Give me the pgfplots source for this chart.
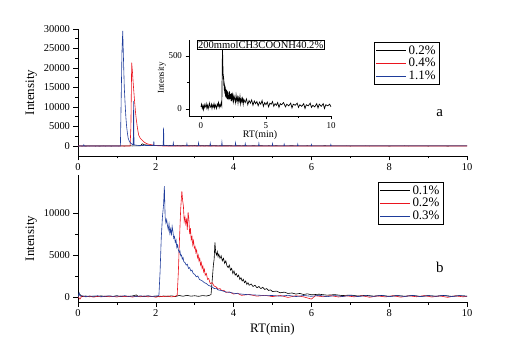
\documentclass[border=0pt]{standalone}
\usepackage{pgfplots}
\pgfplotsset{compat=1.18}
\usepackage{fontspec}
\setmainfont{Liberation Serif}
\definecolor{cblue}{RGB}{30,60,155}
\definecolor{cred}{RGB}{235,20,30}

\pgfplotsset{
  chrom/.style={
    scale only axis,
    width=389bp, height=127bp,
    xmin=0, xmax=10,
    axis x line*=bottom, axis y line*=left,
    axis line style={-, line width=0.7pt},
    tick align=outside,
    major tick length=4.5bp, minor tick length=2.5bp,
    tick style={line width=0.6pt, black},
    xtick={0,2,4,6,8,10},
    minor x tick num=1,
    minor y tick num=1,
    /pgf/number format/assume math mode=true,
    /pgf/number format/set thousands separator={},
    scaled y ticks=false,
    tick label style={font=\fontsize{10.5}{12}\selectfont},
    label style={font=\fontsize{13}{15}\selectfont},
    legend style={draw=black, line width=0.6pt, fill=white, font=\fontsize{13}{14}\selectfont,
      inner sep=1.5bp, row sep=-1.5bp, legend cell align=left},
    legend image code/.code={\draw[#1, line width=0.8pt] (0bp,0bp) -- (30bp,0bp);},
    every axis plot/.append style={line width=0.6pt},
  }
}

\pgfplotstableread{
x y
0.0 20
0.05 45
0.1 5
0.15 30
0.2 -5
0.25 40
0.3 15
0.35 25
0.4 50
0.45 10
0.5 35
0.55 0
0.6 30
0.65 55
0.7 15
0.75 20
0.8 45
0.85 5
0.9 35
0.95 20
1.0 50
1.05 10
1.1 40
1.15 25
1.2 5
1.25 45
1.3 30
1.35 60
1.4 15
1.45 40
1.5 25
1.55 55
1.6 30
1.62 200
1.64 450
1.66 560
1.68 430
1.70 350
1.72 280
1.74 310
1.76 220
1.78 260
1.80 170
1.82 230
1.84 140
1.86 210
1.88 120
1.90 190
1.93 110
1.96 180
1.99 100
2.02 170
2.05 90
2.08 160
2.12 120
2.16 85
2.2 165
2.24 95
2.28 140
2.32 75
2.36 150
2.4 90
2.45 135
2.5 70
2.55 120
2.6 95
2.65 60
2.7 130
2.75 80
2.8 110
2.85 55
2.9 105
2.95 75
3.0 120
3.05 50
3.1 95
3.15 70
3.2 100
3.25 45
3.3 90
3.4 60
3.5 95
3.6 40
3.7 80
3.8 55
3.9 85
4.0 35
4.1 75
4.2 50
4.3 70
4.4 30
4.5 65
4.6 45
4.7 80
4.8 25
4.9 60
5.0 40
5.1 65
5.2 20
5.3 55
5.4 45
5.5 70
5.6 25
5.7 50
5.8 35
5.9 60
6.0 15
6.1 50
6.2 40
6.35 60
6.5 20
6.6 45
6.75 30
6.9 55
7.0 10
7.1 45
7.25 35
7.4 55
7.5 15
7.6 40
7.75 25
7.9 50
8.0 5
8.1 40
8.25 30
8.4 55
8.5 15
8.6 35
8.75 20
8.9 50
9.0 10
9.1 45
9.25 25
9.4 50
9.5 5
9.6 40
9.75 30
9.9 45
10.0 20
}\insetdata

\pgfplotstableread{
x y
0.0 0
1.34 0
1.36 5000
1.38 21400
1.40 19000
1.42 16000
1.45 12000
1.48 8500
1.50 6700
1.53 4500
1.56 2800
1.60 2000
1.65 1500
1.70 1000
1.75 700
1.80 500
1.90 300
2.00 100
2.20 0
10.0 0
}\topred

\pgfplotstableread{
x y
0.00 0
0.14 0
0.15 300
0.16 0
1.09 0
1.11 12000
1.13 24000
1.15 29500
1.17 22000
1.19 15000
1.21 11000
1.23 7500
1.25 5000
1.27 3300
1.29 2000
1.32 1200
1.36 700
1.40 400
1.42 300
1.43 11500
1.44 300
1.50 200
1.60 100
1.70 150
1.94 100
1.95 1200
1.96 100
2.19 100
2.20 4700
2.21 100
2.44 50
2.45 800
2.46 50
2.79 50
2.80 600
2.81 50
3.09 50
3.10 800
3.11 50
3.39 50
3.40 700
3.41 50
3.69 50
3.70 1000
3.71 50
4.04 50
4.05 800
4.06 50
4.29 50
4.30 600
4.31 50
4.64 50
4.65 700
4.66 50
4.99 50
5.00 600
5.01 50
5.29 50
5.30 500
5.31 50
5.64 50
5.65 500
5.66 50
5.99 50
6.00 400
6.01 50
6.49 50
6.50 400
6.51 50
10.0 50
}\topblue

\pgfplotstableread{
x y
0.00 100
0.05 300
0.10 50
0.20 120
0.30 30
0.40 100
0.50 60
0.60 140
0.70 40
0.80 110
0.90 70
1.00 150
1.10 40
1.20 100
1.30 60
1.40 120
1.50 250
1.55 50
1.60 110
1.70 40
1.80 130
1.90 60
2.00 100
2.10 30
2.20 120
2.30 70
2.40 140
2.50 50
2.60 180
2.70 90
2.80 200
2.90 100
3.00 150
3.10 80
3.20 170
3.30 120
3.38 200
3.42 300
3.45 2000
3.48 3800
3.50 4500
3.52 6500
3.54 5300
3.56 5000
3.58 5400
3.60 4800
3.62 5100
3.65 4600
3.68 4900
3.71 4300
3.74 4600
3.77 4000
3.80 4300
3.83 3700
3.86 3500
3.89 3800
3.92 3200
3.95 3400
3.98 2800
4.01 3100
4.04 2600
4.07 2800
4.10 2400
4.13 2600
4.16 2100
4.19 2300
4.22 1900
4.25 2100
4.28 1700
4.31 1900
4.34 1500
4.37 1700
4.40 1400
4.45 1550
4.50 1250
4.55 1400
4.60 1100
4.65 1250
4.70 1000
4.75 1150
4.80 900
4.85 1000
4.90 780
4.95 850
5.00 650
5.10 700
5.20 500
5.30 580
5.40 420
5.50 480
5.60 350
5.70 420
5.80 300
5.90 380
6.00 260
6.20 330
6.40 220
6.60 280
6.80 170
7.00 230
7.20 120
7.40 200
7.60 100
7.80 180
8.00 80
8.20 170
8.40 90
8.60 180
8.80 70
9.00 160
9.20 90
9.40 180
9.60 80
9.80 150
10.0 100
}\botblack

\pgfplotstableread{
x y
0.00 50
0.05 -250
0.10 120
0.20 20
0.30 100
0.40 -20
0.50 90
0.60 10
0.70 110
0.80 30
0.90 80
1.00 0
1.10 120
1.20 40
1.30 90
1.40 -10
1.50 100
1.60 30
1.70 120
1.80 20
1.90 90
2.00 -30
2.10 100
2.20 40
2.30 120
2.40 10
2.50 90
2.55 200
2.58 3000
2.61 7000
2.64 10500
2.67 12600
2.69 11500
2.71 10800
2.73 9000
2.75 9500
2.77 8700
2.79 9200
2.81 8000
2.83 10100
2.85 9300
2.87 7500
2.89 8200
2.91 6800
2.93 7200
2.95 6200
2.97 6700
2.99 5800
3.01 6000
3.03 5300
3.05 5600
3.07 4700
3.09 5000
3.11 4300
3.13 4600
3.15 3800
3.17 4100
3.19 3400
3.21 3700
3.23 3000
3.25 3300
3.27 2600
3.30 2800
3.33 2100
3.36 2200
3.40 1600
3.45 1700
3.50 1300
3.55 1200
3.60 950
3.65 1000
3.70 750
3.75 800
3.80 550
3.90 600
4.00 350
4.10 450
4.20 200
4.40 300
4.60 100
4.80 200
5.00 50
5.20 180
5.40 -50
5.60 150
5.80 20
6.00 -250
6.10 150
6.30 30
6.50 160
6.70 0
6.90 140
7.10 20
7.30 150
7.50 -30
7.70 130
7.90 10
8.10 150
8.30 -20
8.50 140
8.70 30
8.90 160
9.10 0
9.30 130
9.50 -40
9.70 140
9.90 20
10.0 80
}\botred

\pgfplotstableread{
x y
0.00 0
0.03 500
0.06 100
0.10 150
0.20 50
0.30 120
0.40 80
0.50 150
0.60 60
0.70 100
0.80 140
0.90 70
1.00 120
1.10 90
1.20 150
1.30 80
1.40 110
1.50 60
1.60 130
1.70 90
1.80 140
1.90 70
2.00 110
2.06 150
2.08 200
2.11 3000
2.14 7000
2.17 9500
2.20 11000
2.22 13200
2.24 9500
2.26 8800
2.28 9200
2.30 8500
2.32 8000
2.34 8700
2.36 7600
2.38 8100
2.40 7300
2.42 8400
2.44 7800
2.46 7000
2.48 7200
2.50 6500
2.52 6800
2.54 5900
2.56 6200
2.58 5600
2.60 5300
2.62 5500
2.64 4900
2.66 5000
2.68 4500
2.70 4700
2.72 4200
2.75 4100
2.78 3800
2.81 3900
2.84 3400
2.87 3500
2.90 3100
2.93 3200
2.96 2800
3.00 2700
3.04 2400
3.08 2500
3.12 2100
3.16 2000
3.20 1900
3.25 1700
3.30 1600
3.35 1400
3.40 1300
3.45 1200
3.50 1000
3.55 1050
3.60 850
3.70 750
3.80 600
3.90 550
4.00 450
4.10 400
4.20 350
4.30 300
4.50 250
4.70 200
5.00 180
5.20 100
5.40 200
5.60 50
5.80 180
6.00 80
6.20 200
6.40 40
6.60 170
6.80 60
7.00 190
7.20 50
7.40 160
7.60 70
7.80 200
8.00 40
8.20 170
8.40 60
8.60 190
8.80 50
9.00 160
9.20 80
9.40 200
9.60 40
9.80 170
10.0 90
}\botblue

\begin{document}
\begin{tikzpicture}
\useasboundingbox (0bp,0bp) rectangle (527bp,353bp);

% ---------- panel a ----------
\begin{axis}[chrom,
  at={(78bp,197bp)}, anchor=south west,
  ymin=-2560, ymax=30000,
  ytick={0,5000,10000,15000,20000,25000,30000},
  ylabel={Intensity},
  legend style={at={(rel axis cs:0.761,0.898)}, anchor=north west},
]
\addplot[black] table[x=x,y=y] {\insetdata};
\addplot[cred] table[x=x,y=y] {\topred};
\addplot[cblue] table[x=x,y=y] {\topblue};
\legend{0.2\%,0.4\%,1.1\%}
\node[font=\fontsize{15}{16}\selectfont] at (rel axis cs:0.93,0.34) {a};
\end{axis}

% ---------- inset ----------
\begin{axis}[
  scale only axis,
  at={(189bp,237bp)}, anchor=south west,
  width=142bp, height=76bp,
  xmin=-0.92, xmax=10, ymin=-66, ymax=650,
  axis x line*=bottom, axis y line*=left,
  axis line style={-, line width=0.6pt},
  tick align=outside,
  major tick length=3.5bp, minor tick length=2bp,
  tick style={line width=0.5pt, black},
  xtick={0,5,10}, ytick={0,500},
  minor x tick num=1, minor y tick num=1,
  /pgf/number format/assume math mode=true,
  tick label style={font=\fontsize{9}{10}\selectfont},
  xlabel={RT(min)}, ylabel={Intensity},
  xlabel style={font=\fontsize{10}{11}\selectfont, yshift=5bp},
  ylabel style={font=\fontsize{9}{10}\selectfont, yshift=-4bp},
  every axis plot/.append style={line width=0.7pt},
]
\addplot[black] table[x=x,y=y] {\insetdata};
\node[draw=black, line width=0.6pt, fill=white, inner sep=0.8bp, anchor=north west,
  font=\fontsize{10.6}{11}\selectfont] at (rel axis cs:0.056,1.0) {200mmolCH3COONH40.2\%};
\end{axis}

% ---------- panel b ----------
\begin{axis}[chrom,
  at={(78bp,51bp)}, anchor=south west,
  ymin=-595, ymax=14520,
  ytick={0,5000,10000},
  ylabel={Intensity},
  xlabel={RT(min)},
  legend style={at={(rel axis cs:0.771,0.945)}, anchor=north west},
]
\addplot[black] table[x=x,y=y] {\botblack};
\addplot[cred] table[x=x,y=y] {\botred};
\addplot[cblue] table[x=x,y=y] {\botblue};
\legend{0.1\%,0.2\%,0.3\%}
\node[font=\fontsize{15}{16}\selectfont] at (rel axis cs:0.93,0.27) {b};
\end{axis}
\end{tikzpicture}
\end{document}
